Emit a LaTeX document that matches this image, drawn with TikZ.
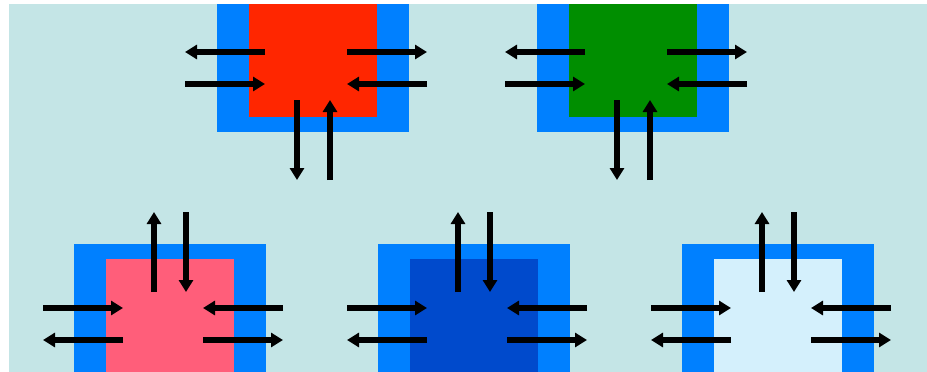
\documentclass[tikz,border=0pt]{standalone}
\usetikzlibrary{arrows.meta}
\definecolor{bgteal}{RGB}{196,229,230}
\definecolor{membrane}{RGB}{0,128,255}
\definecolor{cellred}{RGB}{255,38,0}
\definecolor{cellgreen}{RGB}{0,142,0}
\definecolor{cellpink}{RGB}{255,94,122}
\definecolor{celldeep}{RGB}{0,74,204}
\definecolor{celllight}{RGB}{212,240,252}
\tikzset{
  flux/.style={line width=5.5pt, -{Triangle[length=12pt,width=14pt]}},
  wall/.style={fill=membrane},
}
\begin{document}
\begin{tikzpicture}[x=1pt, y=-1pt]
    \useasboundingbox (0,0) rectangle (927,372);
    \fill[bgteal] (9,4) rectangle (927,372);
    \begin{scope}
    \clip (9,4) rectangle (927,372);
    % top row: outflow downwards
    \foreach \cx/\col in {313/cellred, 633/cellgreen} {
        \begin{scope}[shift={(\cx,0)}]
        \fill[wall] (-96,-10) rectangle (96,132);
        \fill[\col] (-64,-10) rectangle (64,117);
        \draw[flux] (-48,52) -- (-128,52);
        \draw[flux] (-128,84) -- (-48,84);
        \draw[flux] (34,52) -- (114,52);
        \draw[flux] (114,84) -- (34,84);
        \draw[flux] (-16,100) -- (-16,180);
        \draw[flux] (17,180) -- (17,100);
        \end{scope}
    }
    % bottom row: exchange upwards
    \foreach \cx/\col in {170/cellpink, 474/celldeep, 778/celllight} {
        \begin{scope}[shift={(\cx,0)}]
        \fill[wall] (-96,244) rectangle (96,380);
        \fill[\col] (-64,259) rectangle (64,380);
        \draw[flux] (-127,308) -- (-47,308);
        \draw[flux] (-47,340) -- (-127,340);
        \draw[flux] (113,308) -- (33,308);
        \draw[flux] (33,340) -- (113,340);
        \draw[flux] (-16,292) -- (-16,212);
        \draw[flux] (16,212) -- (16,292);
        \end{scope}
    }
    \end{scope}
\end{tikzpicture}
\end{document}
